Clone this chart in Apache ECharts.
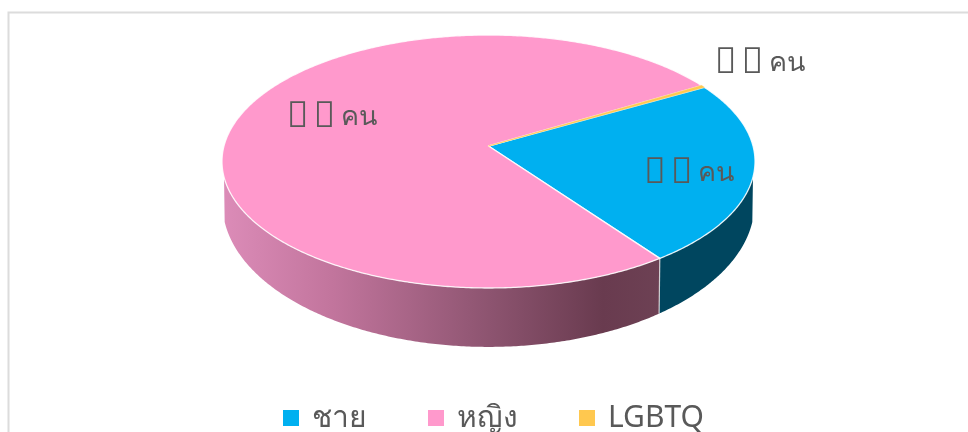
<!DOCTYPE html>
<html><head><meta charset="utf-8">
<style>html,body{margin:0;padding:0;background:#fff}#c{width:968px;height:432px}</style>
<script src="https://cdn.jsdelivr.net/npm/echarts@6/dist/echarts.min.js"></script>
</head><body><div id="c"></div>
<script>
const categories = ['ชาย', 'หญิง', 'LGBTQ'];
const values = [78, 254, 1];
const labels = ['{t|\uE000} {t|\uE000} {n|คน}', '{t|\uE000} {t|\uE000} {n|คน}', '{t|\uE000} {t|\uE000} {n|คน}'];
const topColors = ['#00B0F0', '#FF99CC', '#FFC84F'];

const startAngle = 60;
const labelPolar = [[105.4, 0.767], [292, 0.658], [56.7, 1.338]];
const topDisc = {cx: 488.5, cy: 146, a: 264.5, b: 124.6, k: 0.1225};
const bottomDisc = {cx: 488.5, cy: 186.8, a: 264, b: 140.9, k: 0.12};
const visibleSide = [104, 256];

const total = values.reduce((s, v) => s + v, 0);
function sliceRange(i) {
  let a = startAngle;
  for (let j = 0; j < i; j++) a += values[j] / total * 360;
  return [a, a + values[i] / total * 360];
}
function project(d, deg, r) {
  const t = deg * Math.PI / 180, u = r * Math.sin(t), v = r * Math.cos(t), w = 1 + d.k * v;
  return [d.cx + d.a * u / w, d.cy - d.b * v / w];
}
function arc(d, a1, a2) {
  const out = [], n = Math.max(2, Math.ceil((a2 - a1) * 2));
  for (let i = 0; i <= n; i++) out.push(project(d, a1 + (a2 - a1) * i / n, 1));
  return out;
}
function sideFill(i) {
  if (i === 0) return '#00465F';
  return {type: 'linear', x: 222, y: 0, x2: 660, y2: 0, global: true, colorStops: [
    {offset: 0, color: '#DC8CB8'}, {offset: 0.25, color: '#C2759D'},
    {offset: 0.61, color: '#8D5470'}, {offset: 0.87, color: '#693B4F'}, {offset: 1, color: '#6D4154'}]};
}
function render(i) {
  return function () {
    const [a1, a2] = sliceRange(i);
    const children = [];
    const s1 = Math.max(a1, visibleSide[0]), s2 = Math.min(a2, visibleSide[1]);
    if (s2 > s1) {
      const pts = arc(topDisc, s1, s2).concat(arc(bottomDisc, s1, s2).reverse());
      children.push({type: 'polygon', z2: 1, shape: {points: pts},
        style: {fill: sideFill(i), lineWidth: 0}});
      if (s1 === a1) {
        children.push({type: 'polyline', z2: 2, shape: {points: [project(topDisc, s1, 1), project(bottomDisc, s1, 1)]},
          style: {fill: null, stroke: 'rgba(225,225,225,0.85)', lineWidth: 1.2}});
      }
    }
    const face = [project(topDisc, a1, 0)].concat(arc(topDisc, a1, a2));
    children.push({type: 'polygon', z2: 5 + (i === 2 ? 1 : 0), shape: {points: face},
      style: {fill: topColors[i], stroke: i === 2 ? topColors[i] : 'rgba(255,255,255,0.85)', lineWidth: i === 2 ? 0.6 : 1.3, lineJoin: 'round'}});
    const lp = project(topDisc, labelPolar[i][0], labelPolar[i][1]);
    children.push({type: 'text', z2: 20, style: {x: lp[0], y: lp[1] + 1, text: labels[i], fill: '#595959',
      font: '20px "Noto Sans", sans-serif', align: 'center', verticalAlign: 'middle',
      rich: {
        t: {fontSize: 36, fontFamily: '"Noto Sans", sans-serif', fill: '#595959'},
        n: {fontSize: 27, fontFamily: '"Noto Sans", sans-serif', fill: '#595959'}
      }}});
    return {type: 'group', children};
  };
}
const chart = echarts.init(document.getElementById('c'), null, {renderer: 'canvas'});
chart.setOption({
  animation: false,
  backgroundColor: '#fff',
  graphic: [{type: 'rect', z: -10, silent: true, shape: {x: 8.5, y: 12.5, width: 1100, height: 600},
    style: {fill: '#fff', stroke: '#DCDCDC', lineWidth: 2}}],
  legend: {
    data: categories, top: 403, left: 283, padding: 0, icon: 'rect', itemWidth: 16, itemHeight: 16, itemGap: 61,
    textStyle: {color: '#595959', fontSize: 30, fontFamily: '"Noto Sans", sans-serif', padding: [0, 0, 0, 8]}, selectedMode: false
  },
  series: categories.map((name, i) => ({
    type: 'custom', name, coordinateSystem: 'none', silent: true,
    itemStyle: {color: topColors[i]},
    data: [[values[i]]],
    renderItem: render(i)
  }))
});
</script></body></html>
